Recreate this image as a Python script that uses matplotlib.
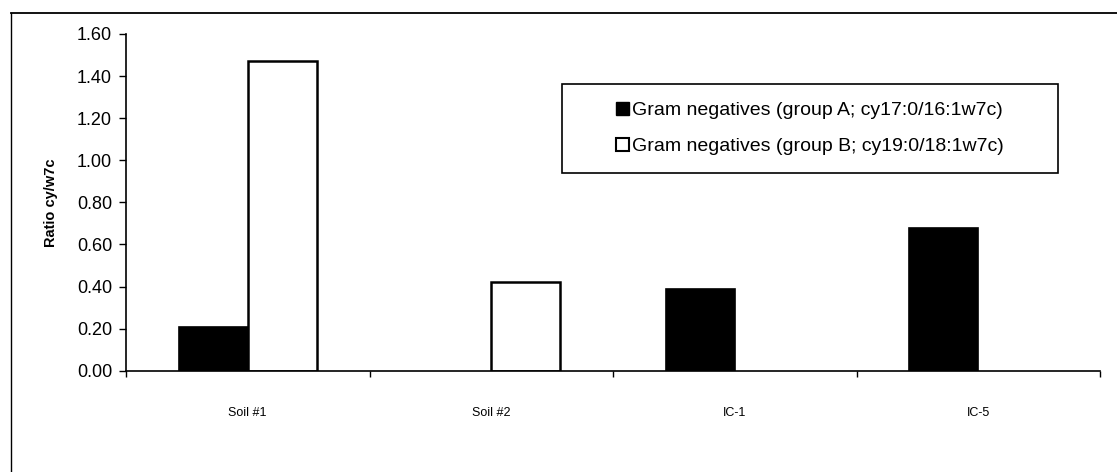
import matplotlib
matplotlib.use("Agg")
import matplotlib.pyplot as plt
from matplotlib.patches import Patch, Rectangle
from matplotlib.lines import Line2D
import numpy as np

categories = ["Soil #1", "Soil #2", "IC-1", "IC-5"]
group_a = [0.21, 0.0, 0.39, 0.68]
group_b = [1.47, 0.42, 0.0, 0.0]
label_a = "Gram negatives (group A; cy17:0/16:1w7c)"
label_b = "Gram negatives (group B; cy19:0/18:1w7c)"
yticks = [0.0, 0.2, 0.4, 0.6, 0.8, 1.0, 1.2, 1.4, 1.6]
ylabel = "Ratio cy/w7c"

plt.rcParams['font.family'] = ['Liberation Sans', 'DejaVu Sans']

W, H = 1117, 472
fig = plt.figure(figsize=(W / 100, H / 100), dpi=100)
ax = fig.add_axes([126 / W, 1 - 370.7 / H, 974 / W, (370.7 - 34) / H])

x = np.arange(len(categories))
w = 0.283
for i in range(len(categories)):
    if group_a[i] > 0:
        ax.bar(x[i] - w / 2, group_a[i], w, color="black", edgecolor="black", linewidth=1.2)
    if group_b[i] > 0:
        ax.bar(x[i] + w / 2, group_b[i], w, color="white", edgecolor="black", linewidth=1.8)

ax.set_xlim(-0.5, len(categories) - 0.5)
ax.set_ylim(0, 1.6)
ax.set_yticks(yticks)
ax.set_yticklabels([f"{v:.2f}" for v in yticks], fontsize=13)
ax.set_xticks(x)
ax.set_xticklabels(categories, fontsize=9)
ax.set_xticks(np.arange(len(categories) + 1) - 0.5, minor=True)
ax.tick_params(axis='x', which='major', length=0, pad=26)
ax.tick_params(axis='x', which='minor', length=4, direction='out', width=1)
ax.tick_params(axis='y', which='major', length=5, direction='out', width=1, pad=5)

for s in ["top", "right"]:
    ax.spines[s].set_visible(False)
for s in ["left", "bottom"]:
    ax.spines[s].set_linewidth(1.2)

ax.set_ylabel(ylabel, fontsize=10.5, fontweight='bold')
ax.yaxis.set_label_coords(-0.070, 0.5)

# legend box
x0 = (562 - 126) / 974
x1 = (1058 - 126) / 974
y0 = (370.7 - 173) / (370.7 - 34)
y1 = (370.7 - 84) / (370.7 - 34)
ax.add_patch(Rectangle((x0, y0), x1 - x0, y1 - y0, transform=ax.transAxes,
                       facecolor="white", edgecolor="black", linewidth=1.2, zorder=5))
handles = [Patch(facecolor="black", edgecolor="black", label=label_a),
           Patch(facecolor="white", edgecolor="black", linewidth=1.5, label=label_b)]
leg = ax.legend(handles=handles, loc="center", bbox_to_anchor=((x0 + x1) / 2, (y0 + y1) / 2),
                frameon=False, fontsize=14, handlelength=0.65, handleheight=0.65,
                handletextpad=0.2, labelspacing=0.95)
leg.set_zorder(6)

# outer frame
fig.add_artist(Line2D([11 / W, 11 / W], [1 - 13 / H, 0], transform=fig.transFigure,
                      color="black", linewidth=1.0))
fig.add_artist(Line2D([11 / W, 1], [1 - 13 / H, 1 - 13 / H], transform=fig.transFigure,
                      color="black", linewidth=1.3))

fig.savefig("out.png", dpi=100)
